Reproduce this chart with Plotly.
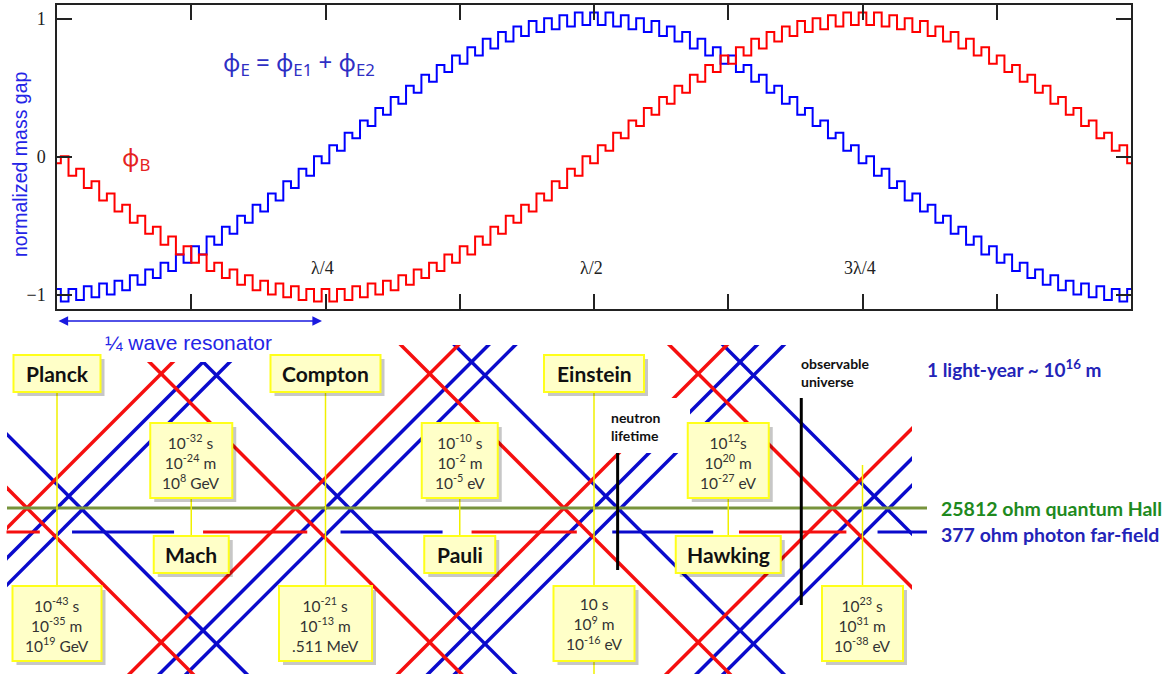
import plotly.graph_objects as go

W, H = 1164, 674

# ---------------- data ----------------
# top chart: normalized mass gap sampled every 1/140 of a wavelength
wave_pos = [i / 140 for i in range(141)]
phi_E = [
    -0.955, -1.045, -0.955, -1.035, -0.935, -1.015, -0.915, -0.995, -0.895, -0.965,
    -0.855, -0.925, -0.815, -0.875, -0.765, -0.825, -0.705, -0.765, -0.645, -0.705,
    -0.575, -0.635, -0.505, -0.555, -0.425, -0.475, -0.345, -0.395, -0.265, -0.315,
    -0.175, -0.225, -0.085, -0.135, 0.005, -0.045, 0.085, 0.045, 0.175, 0.135,
    0.265, 0.225, 0.355, 0.305, 0.435, 0.385, 0.515, 0.465, 0.595, 0.545,
    0.665, 0.615, 0.735, 0.675, 0.795, 0.735, 0.855, 0.785, 0.905, 0.835,
    0.945, 0.875, 0.985, 0.905, 1.005, 0.925, 1.025, 0.945, 1.045, 0.955,
    1.045, 0.955, 1.045, 0.945, 1.025, 0.925, 1.005, 0.905, 0.985, 0.875,
    0.945, 0.835, 0.905, 0.785, 0.855, 0.735, 0.795, 0.675, 0.735, 0.615,
    0.665, 0.545, 0.595, 0.465, 0.515, 0.385, 0.435, 0.305, 0.355, 0.225,
    0.265, 0.135, 0.175, 0.045, 0.085, -0.045, 0.005, -0.135, -0.085, -0.225,
    -0.175, -0.315, -0.265, -0.395, -0.345, -0.475, -0.425, -0.555, -0.505, -0.635,
    -0.575, -0.705, -0.645, -0.765, -0.705, -0.825, -0.765, -0.875, -0.815, -0.925,
    -0.855, -0.965, -0.895, -0.995, -0.915, -1.015, -0.935, -1.035, -0.955, -1.045,
    -0.955,
]
phi_B = [
    -0.045, 0.005, -0.135, -0.085, -0.225, -0.175, -0.315, -0.265, -0.395, -0.345,
    -0.475, -0.425, -0.555, -0.505, -0.635, -0.575, -0.705, -0.645, -0.765, -0.705,
    -0.825, -0.765, -0.875, -0.815, -0.925, -0.855, -0.965, -0.895, -0.995, -0.915,
    -1.015, -0.935, -1.035, -0.955, -1.045, -0.955, -1.045, -0.955, -1.035, -0.935,
    -1.015, -0.915, -0.995, -0.895, -0.965, -0.855, -0.925, -0.815, -0.875, -0.765,
    -0.825, -0.705, -0.765, -0.645, -0.705, -0.575, -0.635, -0.505, -0.555, -0.425,
    -0.475, -0.345, -0.395, -0.265, -0.315, -0.175, -0.225, -0.085, -0.135, 0.005,
    -0.045, 0.085, 0.045, 0.175, 0.135, 0.265, 0.225, 0.355, 0.305, 0.435,
    0.385, 0.515, 0.465, 0.595, 0.545, 0.665, 0.615, 0.735, 0.675, 0.795,
    0.735, 0.855, 0.785, 0.905, 0.835, 0.945, 0.875, 0.985, 0.905, 1.005,
    0.925, 1.025, 0.945, 1.045, 0.955, 1.045, 0.955, 1.045, 0.945, 1.025,
    0.925, 1.005, 0.905, 0.985, 0.875, 0.945, 0.835, 0.905, 0.785, 0.855,
    0.735, 0.795, 0.675, 0.735, 0.615, 0.665, 0.545, 0.595, 0.465, 0.515,
    0.385, 0.435, 0.305, 0.355, 0.225, 0.265, 0.135, 0.175, 0.045, 0.085,
    -0.045,
]
y_tick_vals = [-1, 0, 1]
y_tick_text = ["\u22121", "0", "1"]
wave_mark_pos = [0.25, 0.5, 0.75]
wave_mark_text = ["\u03bb/4", "\u03bb/2", "3\u03bb/4"]

# bottom diagram: scale markers (in wavelength units along the same axis)
scale_pos = [0.0, 0.125, 0.25, 0.375, 0.5, 0.625, 0.75]
scale_name = ["Planck", "Mach", "Compton", "Pauli", "Einstein", "Hawking", ""]
scale_time = ["10<sup>-43</sup> s", "10<sup>-32</sup> s", "10<sup>-21</sup> s", "10<sup>-10</sup> s",
              "10 s", "10<sup>12</sup>s", "10<sup>23</sup> s"]
scale_length = ["10<sup>-35</sup> m", "10<sup>-24</sup> m", "10<sup>-13</sup> m", "10<sup>-2</sup> m",
                "10<sup>9</sup> m", "10<sup>20</sup> m", "10<sup>31</sup> m"]
scale_energy = ["10<sup>19</sup> GeV", "10<sup>8</sup> GeV", ".511 MeV", "10<sup>-5</sup> eV",
                "10<sup>-16</sup> eV", "10<sup>-27</sup> eV", "10<sup>-38</sup> eV"]

# diagonal wave fronts: intercepts on the 25812 ohm line
red_rising = [-0.028, 0.222, 0.472, 0.722]
red_falling = [-0.028, 0.222, 0.472, 0.722]
blue_rising = [0.0, 0.025, 0.25, 0.275, 0.5, 0.525, 0.75, 0.775]
blue_falling = [0.022, 0.272, 0.522, 0.772]

# 377 ohm segments
impedance_start = [-0.047, 0.014, 0.136, 0.264, 0.386, 0.517, 0.635, 0.764]
impedance_end = [-0.016, 0.109, 0.233, 0.359, 0.484, 0.611, 0.735, 0.810]
impedance_kind = ["B", "E", "B", "E", "B", "E", "B", "E"]
neutron_lifetime_pos = 0.522
observable_universe_pos = 0.693

# ---------------- styles / layout helpers ----------------
BLUE_C = "#0000FF"
RED_C = "#FF0000"
BLUE_D = "#0A0ACC"
RED_D = "#F50F0F"
GREEN_L = "#77933C"
YEL_LINE = "#F0F000"
YEL_FILL = "#FFFFC8"
YEL_EDGE = "#FFFF1A"


def U(px):
    return (px - 57) / 1074


def V(py):
    return (508 - py) / 1074


def PX(px):
    return px / W


def PY(py):
    return 1 - py / H


fig = go.Figure()

fig.add_trace(go.Scatter(x=wave_pos, y=phi_E, mode="lines",
                         line=dict(color=BLUE_C, width=2, shape="hvh"),
                         xaxis="x", yaxis="y", hoverinfo="skip", showlegend=False))
fig.add_trace(go.Scatter(x=wave_pos, y=phi_B, mode="lines",
                         line=dict(color=RED_C, width=2, shape="hvh"),
                         xaxis="x", yaxis="y", hoverinfo="skip", showlegend=False))


def diag(cs, rising):
    xs, ys = [], []
    for c in cs:
        for v in (-0.4, 0.4):
            xs.append(c + v if rising else c - v)
            ys.append(v)
        xs.append(None)
        ys.append(None)
    return xs, ys


for cs, rising, col in [(blue_rising, True, BLUE_D), (blue_falling, False, BLUE_D),
                        (red_rising, True, RED_D), (red_falling, False, RED_D)]:
    xs, ys = diag(cs, rising)
    fig.add_trace(go.Scatter(x=xs, y=ys, mode="lines", line=dict(color=col, width=3.5),
                             xaxis="x3", yaxis="y3", hoverinfo="skip", showlegend=False))

fig.add_trace(go.Scatter(x=[], y=[], xaxis="x2", yaxis="y2", showlegend=False, hoverinfo="skip"))

shapes = []
annotations = []


def s_line(x0, y0, x1, y1, color, width):
    shapes.append(dict(type="line", xref="x2", yref="y2", x0=x0, y0=y0, x1=x1, y1=y1,
                       line=dict(color=color, width=width), layer="above"))


def s_rect(x0, y0, x1, y1, fill, edge=None, ew=0):
    shapes.append(dict(type="rect", xref="x2", yref="y2", x0=x0, y0=y0, x1=x1, y1=y1,
                       fillcolor=fill, line=dict(color=edge or fill, width=ew), layer="above"))


def p_text(px, py, text, font, xanchor="center", **kw):
    annotations.append(dict(xref="paper", yref="paper", x=PX(px), y=PY(py), text=text,
                            xanchor=xanchor, yanchor="middle", showarrow=False, font=font, **kw))


# horizontal impedance lines
s_line(U(7), 0, U(927), 0, GREEN_L, 3)
for s, e, k in zip(impedance_start, impedance_end, impedance_kind):
    s_line(s, V(532), e, V(532), RED_D if k == "B" else BLUE_D, 3)

# white text backgrounds
s_rect(U(80), V(335), U(297), V(362), "white")
s_rect(U(607), V(398), U(690), V(453), "white")

# black markers
s_line(neutron_lifetime_pos, V(453), neutron_lifetime_pos, V(570), "black", 3)
s_line(observable_universe_pos, V(398), observable_universe_pos, V(605), "black", 3)

# yellow connectors
conn_top = [392, 497, 392, 498, 390, 498, 465]
conn_bot = [587, 536, 586, 537, 674, 541, 586]
for p, t, b in zip(scale_pos, conn_top, conn_bot):
    s_line(p, V(t), p, V(b), YEL_LINE, 1.5)


def ybox(cpx, w, y0, y1):
    x0, x1 = cpx - w / 2, cpx + w / 2
    s_rect(U(x0 + 4), V(y0 + 4), U(x1 + 4), V(y1 + 4), "rgba(0,0,0,0.22)")
    s_rect(U(x0), V(y0), U(x1), V(y1), YEL_FILL, YEL_EDGE, 2)


name_w = [87, 75, 110, 71, 100, 105, 0]
num_w = [89, 82, 93, 76, 81, 81, 81]
NAME_FONT = dict(family="Lato", size=21, color="#111")
NUM_FONT = dict(family="Lato", size=15.5, color="#333")
for i, p in enumerate(scale_pos):
    cpx = 57 + 1074 * p
    num_text = scale_time[i] + "<br>" + scale_length[i] + "<br>" + scale_energy[i]
    if i % 2 == 0:
        if scale_name[i]:
            ybox(cpx, name_w[i], 355, 392)
            annotations.append(dict(xref="x2", yref="y2", x=p, y=V(373.5), text="<b>" + scale_name[i] + "</b>",
                                    showarrow=False, font=NAME_FONT))
        ybox(cpx, num_w[i], 586, 661)
        annotations.append(dict(xref="x2", yref="y2", x=p, y=V(624), text=num_text, showarrow=False,
                                font=NUM_FONT))
    else:
        ybox(cpx, num_w[i], 423, 498)
        annotations.append(dict(xref="x2", yref="y2", x=p, y=V(461), text=num_text, showarrow=False,
                                font=NUM_FONT))
        ybox(cpx, name_w[i], 536, 573)
        annotations.append(dict(xref="x2", yref="y2", x=p, y=V(554.5), text="<b>" + scale_name[i] + "</b>",
                                showarrow=False, font=NAME_FONT))

# texts of the diagram
annotations += [
    dict(xref="x2", yref="y2", x=U(609), y=V(426), xanchor="left", yanchor="middle", align="left",
         text="<b>neutron<br>lifetime</b>", showarrow=False,
         font=dict(family="Lato", size=14, color="#111")),
    dict(xref="x2", yref="y2", x=U(799), y=V(372), xanchor="left", yanchor="middle", align="left",
         text="<b>observable<br>universe</b>", showarrow=False,
         font=dict(family="Lato", size=14, color="#111")),
    # quarter wave resonator arrow
    dict(xref="x2", yref="y2", x=U(322), y=V(321), ax=U(57), ay=V(321), axref="x2", ayref="y2",
         text="", showarrow=True, arrowside="end+start", arrowhead=2, arrowsize=1.2,
         arrowwidth=1.6, arrowcolor="#1A1AE0", standoff=0, startstandoff=0),
]
p_text(925, 368, "<b>1 light-year ~ 10<sup>16</sup> m</b>",
       dict(family="Lato", size=19, color="#2323B8"), xanchor="left")
p_text(939, 508, "<b>25812 ohm quantum Hall</b>",
       dict(family="Lato", size=19.5, color="#1E8A1E"), xanchor="left")
p_text(939, 534, "<b>377 ohm photon far-field</b>",
       dict(family="Lato", size=19.5, color="#2323B8"), xanchor="left")
p_text(188, 342, "\u00bc wave resonator",
       dict(family="Liberation Sans", size=21, color="#2424E6"))
p_text(20, 165, "normalized mass gap",
       dict(family="Liberation Sans", size=19.5, color="#2424E6"), textangle=-90)
p_text(221, 63, "\u03d5<sub>E</sub> = \u03d5<sub>E1</sub> + \u03d5<sub>E2</sub>",
       dict(family="Noto Sans", size=24, color="#2F2FC4"), xanchor="left")
p_text(120, 158, "\u03d5<sub>B</sub>", dict(family="Noto Sans", size=24, color="#E52222"),
       xanchor="left")

for p, t in zip(wave_mark_pos, wave_mark_text):
    annotations.append(dict(xref="x", yref="y", x=p, y=-0.80, xshift=-3, text=t, showarrow=False,
                            xanchor="center", yanchor="middle",
                            font=dict(family="Liberation Serif", size=18, color="#222")))

axis_common = dict(showgrid=False, zeroline=False)
fig.update_layout(
    width=W, height=H, margin=dict(l=0, r=0, t=0, b=0),
    paper_bgcolor="white", plot_bgcolor="rgba(0,0,0,0)", showlegend=False,
    xaxis=dict(domain=[57 / W, 1131 / W], range=[0, 1], anchor="y", showline=True, mirror="ticks",
               linecolor="#222", linewidth=1.5, ticks="inside", ticklen=15, tickwidth=1.5,
               tickcolor="#222", tickmode="linear", tick0=0, dtick=0.125, showticklabels=False,
               **axis_common),
    yaxis=dict(domain=[1 - 309 / H, 1 - 5 / H], range=[-1.1, 1.1], anchor="x", showline=True,
               mirror="ticks", linecolor="#222", linewidth=1.5, ticks="inside", ticklen=15,
               tickwidth=1.5, tickcolor="#222", tickvals=y_tick_vals, ticktext=y_tick_text,
               ticklabelstandoff=6,
               tickfont=dict(family="Liberation Serif", size=18, color="#222"), **axis_common),
    xaxis2=dict(domain=[0, 1], range=[U(0), U(W)], anchor="y2", visible=False, **axis_common),
    yaxis2=dict(domain=[0, 1], range=[V(H), V(0)], anchor="x2", visible=False, **axis_common),
    xaxis3=dict(domain=[7 / W, 912 / W], range=[U(7), U(912)], anchor="y3", visible=False, **axis_common),
    yaxis3=dict(domain=[0, 1 - 345 / H], range=[V(674), V(345)], anchor="x3", visible=False, **axis_common),
    shapes=shapes, annotations=annotations,
)

fig.write_html("out.html", config={"displayModeBar": False},
               post_script="document.body.style.margin='0';document.body.style.overflow='hidden';")
